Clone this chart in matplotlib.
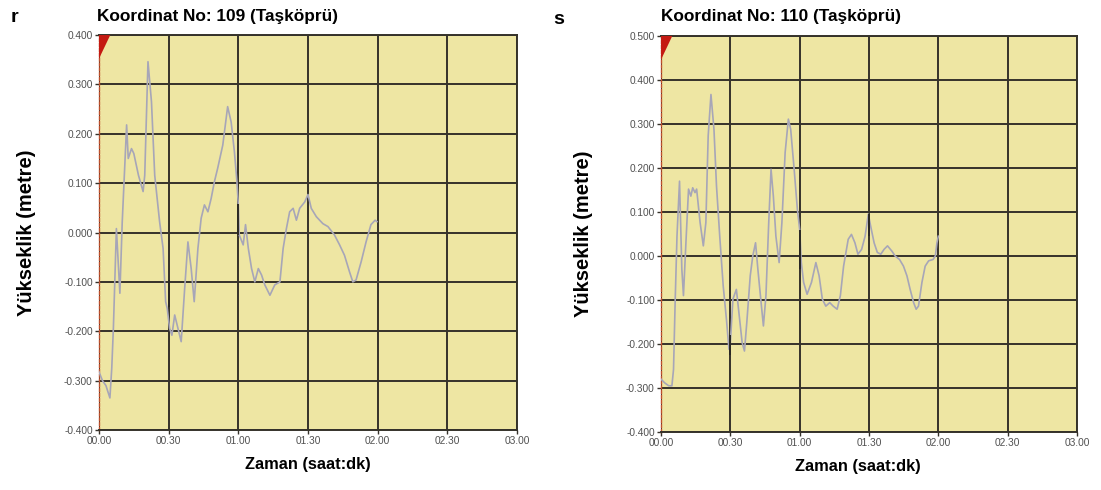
import matplotlib
matplotlib.use("Agg")
import matplotlib.pyplot as plt
from matplotlib.patches import Polygon

# Station 109 (Taşköprü): time in minutes, water level in metres
t_109 = [0, 1.5, 3, 4.7, 5.5, 6.2, 7.5, 9, 10, 11.9, 12.6, 14, 15, 17, 19, 19.7,
         21.1, 22.6, 24, 26.1, 27.6, 28.7, 29.4, 30.4, 31.4, 32.6, 34, 35.4,
         36.9, 38.3, 39.7, 41, 42.6, 44, 45.4, 46.9, 48.3, 49.7, 51.1, 53.3,
         55.4, 56.9, 58.3, 59.4, 60.0, 60.4, 62.1, 63.1, 64.3, 65.7, 67.1, 68.6,
         70, 71.4, 73.6, 75.7, 77.9, 79.3, 80.7, 82.1, 83.6, 85, 86.4, 88.6, 90,
         91.4, 93.6, 96.4, 98.6, 101.4, 103.6, 105.7, 107.9, 109.3, 110.7,
         112.9, 115, 117.1, 118.9, 119.7]
h_109 = [-0.282, -0.30, -0.31, -0.335, -0.275, -0.194, 0.008, -0.123, 0.02,
         0.218, 0.15, 0.17, 0.16, 0.116, 0.083, 0.116, 0.346, 0.265, 0.116,
         0.022, -0.032, -0.14, -0.154, -0.194, -0.208, -0.167, -0.194, -0.221,
         -0.113, -0.019, -0.073, -0.14, -0.032, 0.029, 0.056, 0.042, 0.069,
         0.103, 0.13, 0.177, 0.255, 0.224, 0.164, 0.103, 0.056, -0.005, -0.025,
         0.016, -0.032, -0.073, -0.10, -0.073, -0.086, -0.106, -0.127, -0.106,
         -0.10, -0.032, 0.008, 0.042, 0.049, 0.025, 0.049, 0.062, 0.077, 0.049,
         0.032, 0.018, 0.012, -0.005, -0.025, -0.046, -0.08, -0.10, -0.096,
         -0.059, -0.019, 0.016, 0.025, 0.022]

# Station 110 (Taşköprü)
t_110 = [0, 1.5, 3.3, 4.7, 5.4, 6.1, 6.9, 8, 9, 9.7, 10.9, 11.9, 12.9, 13.7,
         14.7, 15.4, 16.9, 18.3, 19.4, 20.4, 21.6, 22.9, 24, 25.4, 26.9, 28.3,
         29.4, 30, 31.1, 32.6, 33.7, 35.1, 36.1, 37.1, 38.6, 39.7, 40.9, 41.9,
         43.3, 44.3, 45.4, 46.6, 47.6, 48.6, 49.7, 51.1, 52.3, 53.7, 55.1,
         56.1, 57.6, 59, 60, 60.7, 61.7, 63.2, 65.1, 67, 68.4, 69.8, 71.3, 73,
         74.5, 76.2, 77.6, 79, 81, 82.4, 83.9, 85.2, 86.8, 88.3, 89.7, 90.7,
         92.2, 93.6, 95.1, 96.5, 98, 99.9, 101.3, 103.2, 104.9, 106.4, 107.8,
         109.3, 110.4, 111.4, 112.9, 114.3, 115.8, 117.7, 118.7, 119.4, 120]
h_110 = [-0.28, -0.288, -0.295, -0.295, -0.258, -0.106, 0.045, 0.17, -0.03,
         -0.09, 0.045, 0.152, 0.136, 0.155, 0.144, 0.152, 0.076, 0.023, 0.076,
         0.273, 0.367, 0.288, 0.159, 0.045, -0.068, -0.144, -0.212, -0.197,
         -0.098, -0.076, -0.129, -0.197, -0.216, -0.152, -0.045, 0.0, 0.03,
         -0.03, -0.106, -0.159, -0.09, 0.076, 0.197, 0.136, 0.045, -0.015,
         0.076, 0.235, 0.311, 0.288, 0.197, 0.106, 0.06, -0.015, -0.06, -0.087,
         -0.06, -0.015, -0.045, -0.098, -0.114, -0.106, -0.114, -0.121, -0.09,
         -0.023, 0.038, 0.049, 0.03, 0.004, 0.015, 0.045, 0.095, 0.068, 0.03,
         0.008, 0.004, 0.015, 0.023, 0.011, 0.0, -0.008, -0.023, -0.045, -0.076,
         -0.106, -0.121, -0.114, -0.06, -0.023, -0.011, -0.008, 0.0, 0.03, 0.045]

# Short dark jumps in the records at whole half-hours: (minute, from, to)
jumps_109 = [(30, -0.097, -0.150), (60, 0.058, -0.005)]
jumps_110 = [(30, -0.180, -0.225), (60, 0.060, -0.030), (90, 0.095, 0.045)]

x_ticks = [0, 30, 60, 90, 120, 150, 180]
x_labels = ["00.00", "00.30", "01.00", "01.30", "02.00", "02.30", "03.00"]
y_ticks_109 = [0.4, 0.3, 0.2, 0.1, 0.0, -0.1, -0.2, -0.3, -0.4]
y_ticks_110 = [0.5, 0.4, 0.3, 0.2, 0.1, 0.0, -0.1, -0.2, -0.3, -0.4]

titles = ["Koordinat No: 109 (Taşköprü)", "Koordinat No: 110 (Taşköprü)"]
panel_letters = ["r", "s"]

plt.rcParams["font.family"] = ["Liberation Sans", "DejaVu Sans"]

BG = "#EEE6A3"
GRID = "#35322a"
TRACE = "#A7A6B8"

W, H = 1101, 490
fig = plt.figure(figsize=(W / 100, H / 100), dpi=100)
axes_pos = [[0.0899, 0.1224, 0.3797, 0.8061], [0.6004, 0.1184, 0.3778, 0.8082]]
series = [(t_109, h_109, y_ticks_109, jumps_109),
          (t_110, h_110, y_ticks_110, jumps_110)]
title_xy = [(97, 21), (661, 21)]
letter_xy = [(14, 18), (559, 19)]
ylabel_x = [-0.151, -0.163]
xlabel_x = [0.5, 0.474]

for i, (pos, (t, h, yt, jumps)) in enumerate(zip(axes_pos, series)):
    ax = fig.add_axes(pos)
    ax.set_facecolor(BG)
    ax.set_xlim(0, 180)
    ax.set_ylim(min(yt), max(yt))
    ax.set_xticks(x_ticks)
    ax.set_xticklabels(x_labels)
    ax.set_yticks(yt)
    ax.set_yticklabels([f"{v:.3f}" for v in yt])
    ax.grid(True, color=GRID, lw=1.4, zorder=1)
    ax.set_axisbelow(True)
    ax.tick_params(axis="both", direction="out", length=3, width=1,
                   color=GRID, labelsize=7.3, labelcolor="#505050", pad=1.5)
    for side in ["top", "right", "bottom"]:
        ax.spines[side].set_color(GRID)
        ax.spines[side].set_linewidth(1.4)
    ax.spines["left"].set_color("#C0502C")
    ax.spines["left"].set_linewidth(1.0)
    ax.spines["left"].set_linestyle((0, (2, 1.5)))

    ax.plot(t, h, color=TRACE, lw=1.2, zorder=3)
    for m, a, b in jumps:
        ax.vlines(m, b, a, color="#2a2824", lw=1.4, zorder=4)

    # red flag in the upper-left corner
    tri = Polygon([[0, 1], [0.027, 1], [0, 0.94]], closed=True,
                  transform=ax.transAxes, facecolor="#C41A12",
                  edgecolor="none", zorder=5, clip_on=False)
    ax.add_patch(tri)

    ax.set_ylabel("Yükseklik (metre)", fontsize=14.5, fontweight="bold")
    ax.yaxis.set_label_coords(ylabel_x[i], 0.5)
    ax.set_xlabel("Zaman (saat:dk)", fontsize=11.8, fontweight="bold")
    ax.xaxis.set_label_coords(xlabel_x[i], -0.068)

    tx, ty = title_xy[i]
    fig.text(tx / W, 1 - ty / H, titles[i], fontsize=12.4, fontweight="bold",
             ha="left", va="baseline")
    lx, ly = letter_xy[i]
    fig.text(lx / W, 1 - ly / H, panel_letters[i], fontsize=14,
             fontweight="bold", ha="center", va="center")

fig.savefig("out.png", dpi=100, facecolor="white")
